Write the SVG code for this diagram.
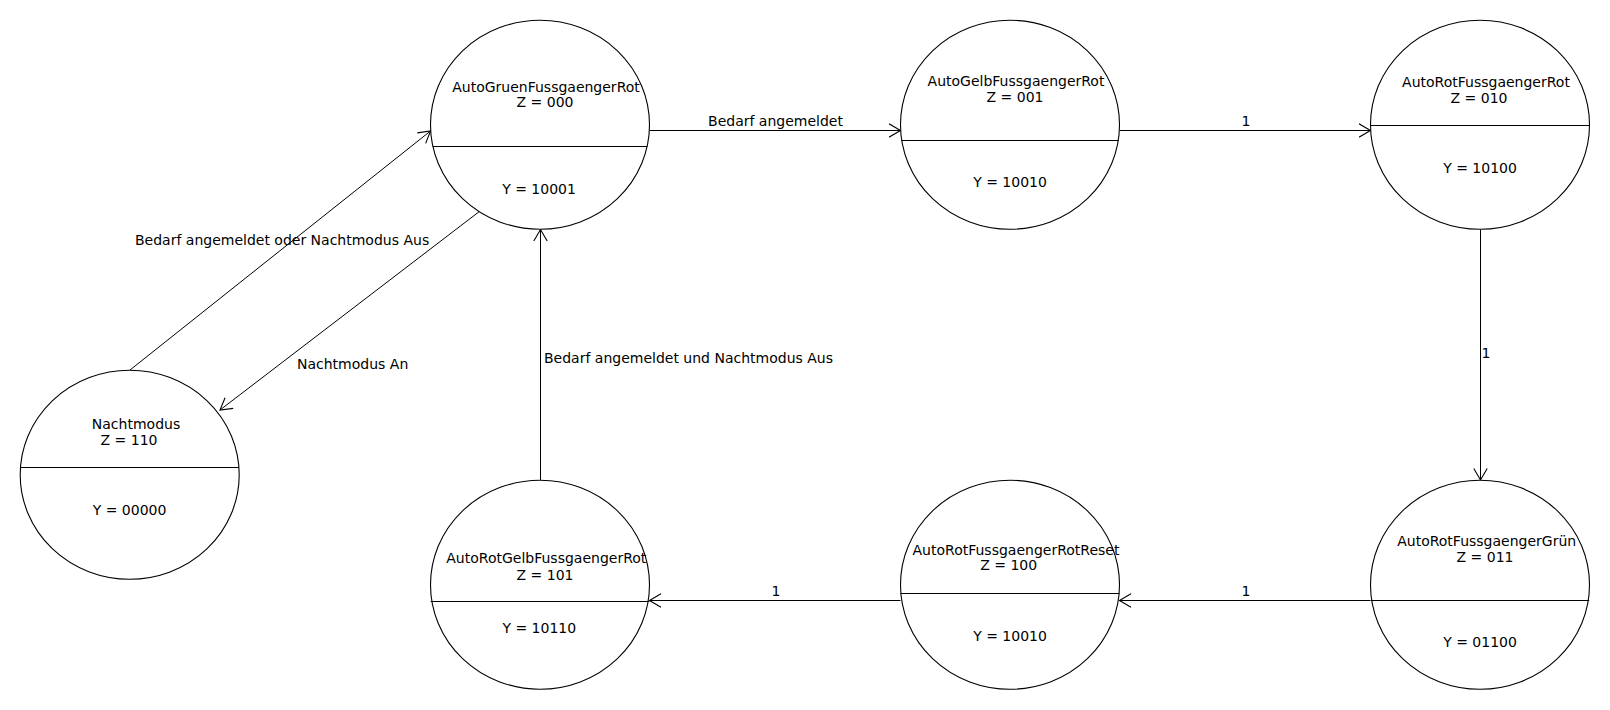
<svg xmlns="http://www.w3.org/2000/svg" width="1610" height="710" viewBox="0 0 1610 710">
<style>
.st{fill:#ffffff;stroke:#000000;stroke-width:1.1}
.dv{stroke:#000000;stroke-width:1;fill:none}
.ln{stroke:#000000;stroke-width:1;fill:none;marker-end:url(#arr)}
text{font-family:"DejaVu Sans","Liberation Sans",sans-serif;font-size:14px;fill:#000000}
.c{text-anchor:middle}
</style>
<defs>
<marker id="arr" markerUnits="userSpaceOnUse" markerWidth="14" markerHeight="16" refX="12" refY="7.5" orient="auto">
<path d="M0.5,0.8 L12,7.5 L0.5,14.2" fill="none" stroke="#000000" stroke-width="1.1"/>
</marker>
</defs>
<rect width="1610" height="710" fill="#ffffff"/>
<g id="connectors">
<line class="ln" x1="649.5" y1="130.5" x2="900.5" y2="130.5"/>
<line class="ln" x1="1119.5" y1="130.5" x2="1370.5" y2="130.5"/>
<line class="ln" x1="1480.5" y1="229.5" x2="1480.5" y2="480"/>
<line class="ln" x1="1370.5" y1="600.5" x2="1119.5" y2="600.5"/>
<line class="ln" x1="900.5" y1="600.5" x2="649.5" y2="600.5"/>
<line class="ln" x1="540.5" y1="480" x2="540.5" y2="229.5"/>
<line class="ln" x1="130" y1="370" x2="430.5" y2="131"/>
<line class="ln" x1="480" y1="211" x2="220" y2="410"/>
<text class="c" x="775.5" y="126">Bedarf angemeldet</text>
<text class="c" x="1246" y="126">1</text>
<text class="c" x="1486" y="358">1</text>
<text class="c" x="1246" y="596">1</text>
<text class="c" x="776" y="596">1</text>
<text x="544" y="363">Bedarf angemeldet und Nachtmodus Aus</text>
<text x="135" y="245">Bedarf angemeldet oder Nachtmodus Aus</text>
<text x="297" y="369">Nachtmodus An</text>
</g>
<g id="AutoGruenFussgaengerRot">
<ellipse class="st" cx="540" cy="124.75" rx="109.5" ry="104.5"/>
<line class="dv" x1="432.6" y1="146.5" x2="647.4" y2="146.5"/>
<text class="c" x="546" y="91.7">AutoGruenFussgaengerRot</text>
<text class="c" x="545" y="107.3">Z = 000</text>
<text class="c" x="539" y="194">Y = 10001</text>
</g>
<g id="AutoGelbFussgaengerRot">
<ellipse class="st" cx="1010" cy="124.75" rx="109.5" ry="104.5"/>
<line class="dv" x1="901.3" y1="140.5" x2="1118.7" y2="140.5"/>
<text class="c" x="1016" y="86">AutoGelbFussgaengerRot</text>
<text class="c" x="1015" y="101.7">Z = 001</text>
<text class="c" x="1010" y="186.7">Y = 10010</text>
</g>
<g id="AutoRotFussgaengerRot">
<ellipse class="st" cx="1480" cy="124.75" rx="109.5" ry="104.5"/>
<line class="dv" x1="1370.5" y1="125.5" x2="1589.5" y2="125.5"/>
<text class="c" x="1486" y="86.7">AutoRotFussgaengerRot</text>
<text class="c" x="1479" y="103.3">Z = 010</text>
<text class="c" x="1480" y="173.3">Y = 10100</text>
</g>
<g id="AutoRotFussgaengerGruen">
<ellipse class="st" cx="1480" cy="584.75" rx="109.5" ry="104.5"/>
<line class="dv" x1="1370.8" y1="600.5" x2="1589.2" y2="600.5"/>
<text class="c" x="1486.7" y="545.5">AutoRotFussgaengerGrün</text>
<text class="c" x="1485" y="561.7">Z = 011</text>
<text class="c" x="1480" y="646.7">Y = 01100</text>
</g>
<g id="AutoRotFussgaengerRotReset">
<ellipse class="st" cx="1010" cy="584.75" rx="109.5" ry="104.5"/>
<line class="dv" x1="900.6" y1="593.5" x2="1119.4" y2="593.5"/>
<text class="c" x="1016" y="554.5">AutoRotFussgaengerRotReset</text>
<text class="c" x="1008.7" y="570">Z = 100</text>
<text class="c" x="1010" y="641">Y = 10010</text>
</g>
<g id="AutoRotGelbFussgaengerRot">
<ellipse class="st" cx="540" cy="584.75" rx="109.5" ry="104.5"/>
<line class="dv" x1="430.7" y1="601.5" x2="649.3" y2="601.5"/>
<text class="c" x="546.3" y="563.3">AutoRotGelbFussgaengerRot</text>
<text class="c" x="545" y="580">Z = 101</text>
<text class="c" x="539.3" y="633.3">Y = 10110</text>
</g>
<g id="Nachtmodus">
<ellipse class="st" cx="129.7" cy="474.75" rx="109.5" ry="104.5"/>
<line class="dv" x1="20.4" y1="467.5" x2="239" y2="467.5"/>
<text class="c" x="136" y="429">Nachtmodus</text>
<text class="c" x="129" y="445">Z = 110</text>
<text class="c" x="129.5" y="515">Y = 00000</text>
</g>
</svg>
